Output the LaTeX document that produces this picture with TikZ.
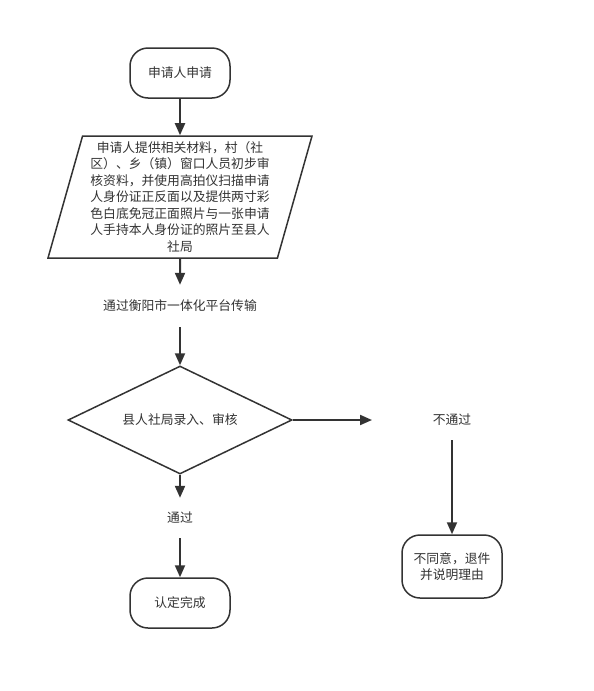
\documentclass[tikz,border=0pt]{standalone}
\usepackage{fontspec}
\setmainfont{Noto Sans CJK SC}
\usetikzlibrary{shapes.geometric,arrows.meta}
\definecolor{ink}{HTML}{333333}
\begin{document}
\begin{tikzpicture}[x=1pt,y=-1pt,
  every node/.style={text=ink,font=\fontsize{12.8pt}{16.5pt}\selectfont},
  conn/.style={draw=ink,line width=2pt,-{Triangle[length=12pt,width=10pt]}},
  term/.style={draw=ink,line width=1.5pt,rounded corners=18pt,minimum width=100pt,inner sep=0pt,align=center},
  para/.style={draw=ink,line width=1.5pt,trapezium,trapezium left angle=72.7,trapezium right angle=107.3,trapezium stretches body,minimum width=264pt,minimum height=122pt,inner sep=0pt,align=center},
  dec/.style={draw=ink,line width=1.5pt,diamond,aspect=2.074,minimum width=224pt,minimum height=108pt,inner sep=0pt},
  lbl/.style={inner sep=0pt,minimum height=40pt}]
\useasboundingbox[fill=white] (0,0) rectangle (594,691);
\node[term,minimum height=50pt] (start) at (180,73) {申请人申请};
\node[para] (mat) at (180,197) {申请人提供相关材料，村（社\\区）、乡（镇）窗口人员初步审\\核资料，并使用高拍仪扫描申请\\人身份证正反面以及提供两寸彩\\色白底免冠正面照片与一张申请\\人手持本人身份证的照片至县人\\社局};
\node[lbl,minimum height=42pt] (trans) at (180,306) {通过衡阳市一体化平台传输};
\node[dec] (check) at (180,420) {县人社局录入、审核};
\node[lbl] (pass) at (180,518) {通过};
\node[term,minimum height=50pt] (done) at (180,603) {认定完成};
\node[lbl] (fail) at (452,420) {不通过};
\coordinate (failin) at (372,420);
\node[term,minimum height=63pt] (reject) at (452,566.5) {不同意，退件\\并说明理由};
\draw[conn] (start) -- (mat);
\draw[conn] (mat) -- (trans);
\draw[conn] (trans) -- (check);
\draw[conn] (check) -- (pass);
\draw[conn] (pass) -- (done);
\draw[conn] (check.east) -- (failin);
\draw[conn] (fail) -- (reject);
\end{tikzpicture}
\end{document}
